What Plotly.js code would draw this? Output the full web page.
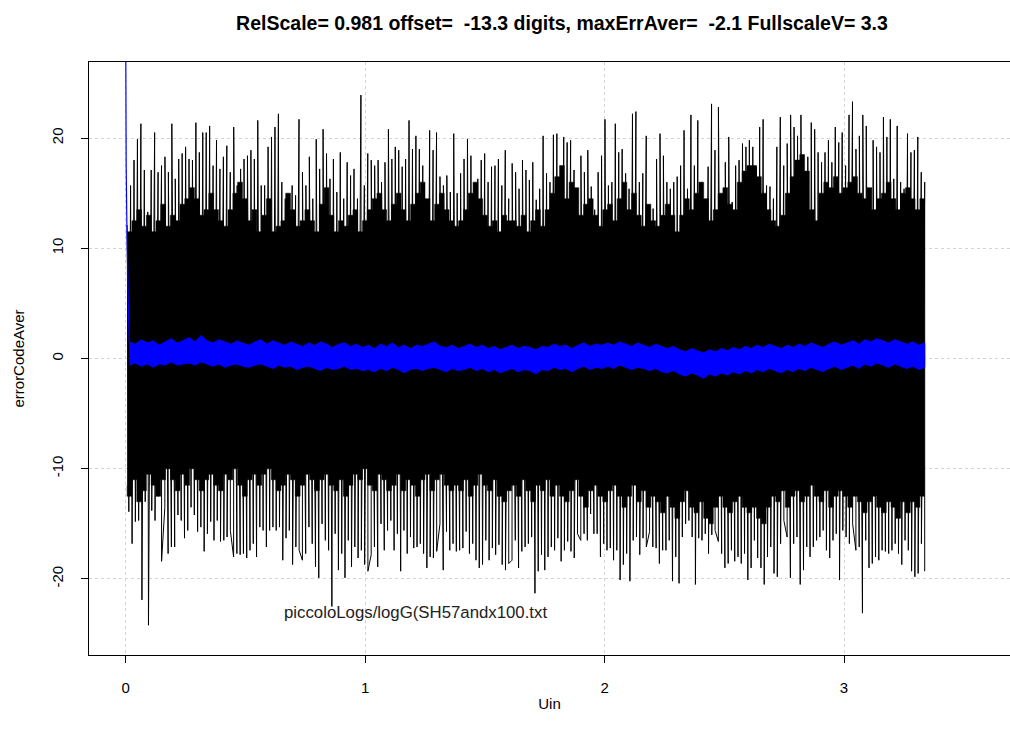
<!DOCTYPE html>
<html>
<head>
<meta charset="utf-8">
<script src="https://cdn.plot.ly/plotly-3.0.1.min.js"></script>
<style>html,body{margin:0;padding:0;background:#fff;}#chart{width:1010px;height:733px;}</style>
</head>
<body>
<div id="chart"></div>
<script>
// ---- data ----
// upper spikes of errorCodeAver (left to right, evenly spread over the Uin sweep)
const topSpikes = [
 12.1, 15.7, 18.0, 19.9, 21.3, 17.1, 13.3, 17.1, 20.5, 16.9,
 17.5, 18.3, 16.9, 21.3, 16.3, 18.1, 18.6, 19.2, 18.1, 18.0,
 21.4, 18.7, 20.5, 20.5, 21.1, 17.5, 19.8, 17.2, 18.3, 19.3,
 16.9, 21.0, 15.7, 17.2, 18.1, 18.4, 18.9, 18.1, 21.6, 15.7,
 15.7, 19.2, 20.1, 21.0, 22.2, 16.0, 14.5, 13.6, 15.7, 14.8,
 21.7, 16.9, 15.7, 18.3, 14.5, 19.9, 17.2, 20.8, 18.6, 16.3,
 18.1, 15.1, 18.7, 14.5, 17.8, 16.6, 17.2, 14.5, 23.9, 15.7,
 18.6, 18.0, 17.5, 18.0, 16.0, 17.8, 20.8, 18.1, 19.2, 18.9,
 17.4, 18.1, 21.6, 19.0, 20.2, 19.0, 17.5, 13.8, 20.7, 18.9,
 20.5, 16.5, 15.7, 16.6, 15.1, 20.4, 15.0, 16.8, 18.1, 19.9,
 18.4, 15.7, 16.3, 18.0, 18.6, 16.0, 17.4, 17.5, 18.1, 15.7,
 18.9, 14.5, 17.7,
 16.9, 15.4, 18.0, 17.1, 16.2, 17.8, 14.4, 15.4, 20.2,
 16.8, 16.0, 20.3, 20.4, 13.2, 20.1, 19.6, 19.8, 17.1, 15.0,
 18.4, 16.9, 18.9, 15.6, 13.5, 16.9, 18.4, 21.7, 15.7, 16.0,
 21.3, 18.7, 19.0, 16.8, 15.4, 22.2, 22.4, 16.0, 16.8, 20.2,
 13.6, 13.6, 18.1, 20.4, 18.4, 16.0, 15.4, 16.0, 16.5, 17.5,
 20.7, 15.4, 22.1, 17.5, 21.6, 16.0, 12.4, 17.4, 23.1, 18.9,
 22.8, 14.2, 17.8, 20.1, 14.2, 17.5, 18.0, 19.5, 19.2, 19.8,
 19.2, 17.4, 21.0, 21.7, 15.7, 15.6, 14.5, 19.2, 21.9, 17.5,
 19.5, 22.1, 21.0, 20.2, 22.1, 14.5, 18.3, 21.4, 20.8, 18.7,
 17.8, 18.7, 19.8, 17.8, 21.0, 19.6, 20.5, 17.5, 22.1, 23.3,
 19.0, 20.2, 22.1, 21.1, 15.4, 19.8, 19.2, 18.7, 21.9, 20.1,
 21.7, 16.3, 21.1, 16.0, 15.4, 20.4, 18.7, 18.9, 20.1, 16.9,
 16.0
];
// lower spikes of errorCodeAver
const bottomSpikes = [
 -13.9, -16.8, -14.8, -14.7, -21.9, -13.0, -24.2, -13.8, -14.7, -12.5,
 -18.4, -13.5, -17.7, -17.1, -17.1, -14.2, -14.7, -16.3, -15.6, -13.5,
 -14.2, -15.7, -15.3, -17.5, -15.9, -14.8, -16.5, -14.7, -16.6, -16.5,
 -16.2, -15.6, -18.0, -17.7, -17.8, -17.7, -18.1, -17.4, -16.8, -18.0,
 -15.3, -15.6, -17.1, -15.6, -15.3, -15.6, -15.3, -18.3, -16.3, -15.6,
 -18.7, -17.1, -17.4, -18.3, -17.7, -15.3, -16.8, -18.9, -19.9, -15.0,
 -16.5, -17.4, -22.5, -15.9, -19.2, -17.7, -19.9, -16.5, -18.9, -17.1,
 -18.1, -17.4, -18.7, -19.3, -17.8, -17.1, -18.9, -15.0, -17.4, -15.6,
 -14.7, -17.4, -15.9, -19.3, -15.6, -17.7, -16.2, -17.2, -17.1, -16.8,
 -17.7, -19.0, -18.0, -18.1, -17.5, -15.0, -19.2, -15.7, -17.4, -16.8,
 -17.5, -17.4, -17.2, -15.7, -17.7, -16.8, -18.3, -19.0, -18.7, -16.5,
 -18.3, -17.2, -17.8, -16.9, -18.7, -19.2, -18.6, -18.3, -16.5, -19.0,
 -17.5, -17.1, -16.8,
 -16.2, -21.3, -19.3, -17.8, -19.2, -18.0, -17.1, -17.4, -16.3,
 -18.4, -17.4, -16.6, -17.5, -18.1, -15.9, -16.5, -15.9, -16.5, -14.1,
 -15.9, -15.9, -18.0, -16.8, -17.4, -17.2, -18.3, -17.4, -20.1, -18.7,
 -17.7, -20.2, -16.5, -16.2, -17.8, -16.3, -17.1, -15.7, -17.1, -17.2,
 -18.6, -17.4, -17.4, -16.5, -20.2, -18.0, -20.4, -16.2, -15.0, -14.7,
 -16.2, -20.5, -16.3, -16.5, -15.9, -17.7, -16.0, -15.6, -16.6, -17.7,
 -19.0, -18.6, -17.4, -18.4, -18.0, -18.6, -17.7, -20.1, -19.0, -16.5,
 -18.1, -19.0, -20.5, -18.0, -17.1, -19.5, -19.8, -16.8, -14.7, -16.2,
 -19.9, -16.8, -16.2, -20.5, -19.2, -17.1, -18.0, -17.1, -16.5, -16.2,
 -15.6, -17.4, -18.1, -16.5, -15.9, -20.1, -15.6, -16.2, -16.8, -15.0,
 -17.4, -17.1, -23.1, -16.5, -19.0, -18.6, -18.0, -18.3, -17.4, -17.5,
 -17.7, -17.4, -16.8, -17.7, -18.7, -16.5, -17.4, -19.3, -19.8, -19.5,
 -16.8, -19.3
];
// silhouette of the solid black mass (upper / lower edge), every ~0.02 of Uin
const coreTop = [
 11.5, 12.5, 13.5, 12.0, 13.0, 11.5, 12.5, 14.0, 12.0, 13.0,
 12.5, 14.0, 14.5, 15.5, 14.5, 13.0, 13.5, 15.0, 13.5, 12.5,
 12.0, 13.5, 15.0, 16.0, 14.5, 12.5, 13.5, 11.5, 13.0, 14.5,
 11.5, 12.0, 12.5, 15.0, 13.5, 12.0, 12.5, 13.5, 12.5, 11.5,
 14.0, 15.5, 13.0, 11.5, 12.5, 12.0, 13.0, 13.5, 11.5, 12.5,
 13.5, 14.5, 15.0, 13.5, 12.5, 14.0, 15.0, 13.5, 12.5, 14.0,
 15.0, 16.0, 14.5, 12.5, 14.0, 15.0, 13.5, 12.5, 12.0, 12.5,
 13.5, 15.0, 16.0, 14.5, 13.0, 12.0, 12.5, 11.5, 13.0, 12.5,
 12.5, 12.0, 13.0, 11.5, 12.5, 13.5, 12.0, 13.5, 15.0, 16.5,
 17.5, 14.5, 16.0, 15.5, 13.0, 14.0, 14.5, 13.0, 12.0, 13.5,
 14.0, 12.5, 14.5, 16.0, 13.5, 15.0, 13.0, 12.0, 14.0, 12.5,
 12.0, 13.0, 14.0, 13.0, 11.5, 13.0, 14.5, 13.5, 15.0, 16.0,
 14.5, 12.5, 13.5, 15.0, 15.5, 14.0, 13.5, 16.0, 17.0, 17.5,
 17.5, 16.5, 15.0, 13.5, 12.5, 12.0, 13.0, 15.0, 16.5, 18.0,
 18.5, 17.0, 13.5, 12.5, 15.0, 16.0, 15.5, 16.5, 15.0, 15.5,
 16.0, 16.5, 15.0, 14.5, 15.5, 13.5, 14.5, 15.0, 16.0, 14.5,
 13.5, 15.0, 15.5, 14.5, 13.5, 14.5, 14.0];
const coreBottom = [
 -11.5, -12.5, -11.0, -13.0, -12.0, -10.5, -11.5, -12.5, -11.0, -10.0,
 -11.0, -12.0, -10.5, -11.5, -10.0, -11.0, -12.0, -11.0, -10.5, -11.5,
 -12.0, -10.5, -11.0, -10.0, -11.5, -12.5, -11.0, -10.5, -11.5, -10.5,
 -10.0, -11.0, -12.0, -11.5, -10.5, -11.0, -12.5, -11.5, -10.5, -11.0,
 -12.0, -11.0, -10.5, -11.5, -12.0, -11.0, -12.5, -11.5, -10.5, -11.0,
 -10.0, -11.5, -12.0, -10.5, -11.0, -12.0, -11.5, -10.5, -12.0, -11.0,
 -11.5, -12.5, -11.0, -10.5, -12.0, -11.0, -10.5, -11.5, -12.0, -11.5,
 -12.0, -11.0, -12.5, -11.5, -10.5, -11.5, -12.0, -11.0, -12.5, -13.0,
 -12.0, -11.5, -12.5, -11.0, -12.0, -13.0, -11.5, -12.0, -11.0, -12.5,
 -11.5, -12.5, -13.0, -12.0, -11.0, -12.5, -13.5, -12.0, -11.5, -12.5,
 -13.0, -12.0, -11.5, -12.5, -13.5, -12.5, -11.5, -13.0, -12.0, -13.5,
 -12.5, -13.0, -14.0, -12.5, -13.5, -14.5, -13.0, -12.0, -13.5, -14.0,
 -13.0, -14.5, -15.0, -13.5, -12.5, -13.5, -14.0, -13.0, -12.5, -13.5,
 -14.0, -13.5, -14.5, -15.0, -13.5, -12.5, -13.0, -12.0, -13.5, -12.5,
 -12.0, -13.0, -12.5, -11.5, -12.5, -13.0, -12.0, -13.5, -12.5, -12.0,
 -12.5, -13.5, -12.5, -13.0, -14.0, -13.0, -12.5, -13.5, -14.0, -13.0,
 -13.5, -14.5, -13.0, -14.0, -13.0, -13.5, -12.5];
// averaged error (blue): start transient, then upper / lower band edges every ~0.025
const blueHeadUin = [0.0, 0.0, 0.002, 0.005, 0.008, 0.012, 0.015];
const blueHeadErr = [30.0, 24.6, 17.5, 11.9, 7.0, 3.7, 1.5];
const blueTop = [
 1.5, 1.3, 1.7, 1.4, 1.6, 1.2, 1.5, 1.8, 1.4, 1.6,
 1.9, 1.5, 2.1, 1.6, 1.4, 1.7, 1.5, 1.3, 1.6, 1.4,
 1.2, 1.5, 1.7, 1.3, 1.6, 1.4, 1.2, 1.5, 1.3, 1.1,
 1.4, 1.2, 1.5, 1.3, 1.0, 1.3, 1.4, 1.1, 1.3, 1.0,
 1.2, 0.9, 1.3, 1.1, 1.4, 1.0, 1.2, 0.9, 1.2, 1.1,
 1.3, 1.5, 1.1, 1.0, 1.2, 0.9, 1.1, 1.3, 1.0, 1.2,
 0.9, 1.1, 0.8, 1.0, 1.2, 0.9, 1.1, 1.0, 0.8, 1.1,
 1.0, 1.3, 1.1, 1.2, 0.9, 1.2, 1.4, 1.1, 1.3, 1.2,
 1.4, 1.2, 1.5, 1.3, 1.1, 1.4, 1.2, 1.0, 1.3, 1.1,
 0.9, 1.1, 0.8, 0.6, 0.9, 0.7, 0.5, 0.8, 0.6, 0.9,
 0.7, 1.0, 0.8, 1.1, 0.9, 1.2, 1.0, 1.3, 1.1, 0.9,
 1.2, 1.0, 1.3, 1.1, 1.4, 1.2, 1.0, 1.3, 1.5, 1.2,
 1.4, 1.6, 1.3, 1.7, 1.5, 1.8, 1.6, 1.4, 1.7, 1.5,
 1.3, 1.5, 1.2, 1.4];
const blueBottom = [
 -0.6, -0.4, -0.7, -0.5, -0.8, -0.5, -0.6, -0.3, -0.6, -0.5,
 -0.4, -0.6, -0.3, -0.5, -0.7, -0.5, -0.8, -0.6, -0.5, -0.7,
 -0.8, -0.6, -0.5, -0.7, -0.9, -0.6, -0.8, -0.7, -1.0, -0.8,
 -0.7, -0.9, -1.1, -0.8, -1.0, -0.9, -0.7, -1.0, -0.9, -1.1,
 -1.0, -1.2, -0.9, -1.1, -0.8, -1.0, -1.3, -1.0, -0.9, -1.1,
 -0.9, -0.8, -1.0, -1.2, -0.9, -1.1, -1.0, -0.8, -1.1, -0.9,
 -1.2, -1.0, -1.3, -1.1, -0.9, -1.2, -1.0, -1.1, -1.4, -1.0,
 -1.1, -0.8, -1.0, -0.9, -1.2, -0.9, -0.7, -1.0, -0.8, -0.9,
 -0.7, -0.9, -0.6, -0.8, -1.0, -0.8, -0.9, -1.1, -0.9, -1.2,
 -1.3, -1.1, -1.4, -1.6, -1.3, -1.5, -1.8, -1.4, -1.6, -1.3,
 -1.5, -1.2, -1.4, -1.1, -1.3, -1.0, -1.2, -0.9, -1.1, -1.3,
 -1.0, -1.2, -0.9, -1.1, -0.8, -1.0, -1.2, -0.9, -0.7, -1.0,
 -0.8, -0.6, -0.9, -0.5, -0.7, -0.4, -0.6, -0.8, -0.5, -0.7,
 -0.9, -0.7, -1.0, -0.8];
const uinFirst = 0.006;   // first logged Uin
const uinLast = 3.337;    // last logged Uin
const xTicks = [0, 1, 2, 3];
const yTicks = [-20, -10, 0, 10, 20];
const titleText = 'RelScale= 0.981 offset=\u00a0 -13.3 digits, maxErrAver=\u00a0 -2.1 FullscaleV= 3.3';
const fileLabel = 'piccoloLogs/logG(SH57andx100.txt';

// ---- build traces ----
function spread(n, a, b) { const o = []; for (let i = 0; i < n; i++) o.push(a + (b - a) * i / (n - 1)); return o; }
const hiX = spread(topSpikes.length, uinFirst, uinLast);
const loX = spread(bottomSpikes.length, uinFirst + 0.007, uinLast);
const pts = [];
hiX.forEach((x, i) => pts.push([x, topSpikes[i]]));
loX.forEach((x, i) => pts.push([x, bottomSpikes[i]]));
pts.sort((a, b) => a[0] - b[0]);
const blackX = pts.map(p => p[0]), blackY = pts.map(p => p[1]);

const coreX = spread(coreTop.length, uinFirst, uinLast);
const blueX = spread(blueTop.length, 0.015, uinLast);

const traces = [
  { x: coreX, y: coreTop, type: 'scatter', mode: 'lines', fill: 'tozeroy', fillcolor: '#000',
    line: { color: '#000', width: 0.5, shape: 'hv' }, hoverinfo: 'skip', showlegend: false },
  { x: coreX, y: coreBottom, type: 'scatter', mode: 'lines', fill: 'tozeroy', fillcolor: '#000',
    line: { color: '#000', width: 0.5, shape: 'vh' }, hoverinfo: 'skip', showlegend: false },
  { x: blackX, y: blackY, type: 'scatter', mode: 'lines', line: { color: '#000', width: 1 }, showlegend: false },
  { x: blueX.concat(blueX.slice().reverse()), y: blueTop.concat(blueBottom.slice().reverse()),
    type: 'scatter', mode: 'lines', fill: 'toself', fillcolor: '#0000ff', line: { color: '#0000ff', width: 1 },
    hoverinfo: 'skip', showlegend: false },
  { x: blueHeadUin, y: blueHeadErr, type: 'scatter', mode: 'lines', line: { color: '#0000ff', width: 1.2 }, showlegend: false }
];

const font = 'Liberation Sans, Arial, sans-serif';
const layout = {
  width: 1010, height: 733,
  margin: { l: 89, r: 0, t: 62, b: 78 },
  paper_bgcolor: '#fff', plot_bgcolor: '#fff',
  font: { family: font, size: 15, color: '#000' },
  title: { text: '<b>' + titleText + '</b>', font: { family: font, size: 19.5, color: '#000' },
           xref: 'container', yref: 'container', x: 562 / 1010, y: 1 - 23 / 733, xanchor: 'center', yanchor: 'middle' },
  xaxis: {
    range: [-0.1533, 3.6933], tickvals: xTicks, ticktext: xTicks.map(String),
    ticks: 'outside', ticklen: 7, tickcolor: '#000', tickwidth: 1, ticklabelstandoff: 12,
    showline: true, linecolor: '#000', linewidth: 1, mirror: true,
    showgrid: true, gridcolor: '#d3d3d3', griddash: 'dot', gridwidth: 1, zeroline: false,
    title: { text: 'Uin', font: { family: font, size: 15 }, standoff: 3 }
  },
  yaxis: {
    range: [-26.9, 26.9], tickvals: yTicks, ticktext: yTicks.map(String), tickangle: -90,
    ticks: 'outside', ticklen: 7, tickcolor: '#000', tickwidth: 1, ticklabelstandoff: 12,
    showline: true, linecolor: '#000', linewidth: 1, mirror: false,
    showgrid: true, gridcolor: '#d3d3d3', griddash: 'dot', gridwidth: 1, zeroline: false,
    title: { text: 'errorCodeAver', font: { family: font, size: 15 }, standoff: 20 }
  },
  annotations: [
    { x: 1.21, y: -23.0, xref: 'x', yref: 'y', text: fileLabel, showarrow: false,
      xanchor: 'center', yanchor: 'middle', font: { family: font, size: 16.8, color: '#222' } }
  ]
};

Plotly.newPlot('chart', traces, layout, { displayModeBar: false, staticPlot: true });
</script>
</body>
</html>
